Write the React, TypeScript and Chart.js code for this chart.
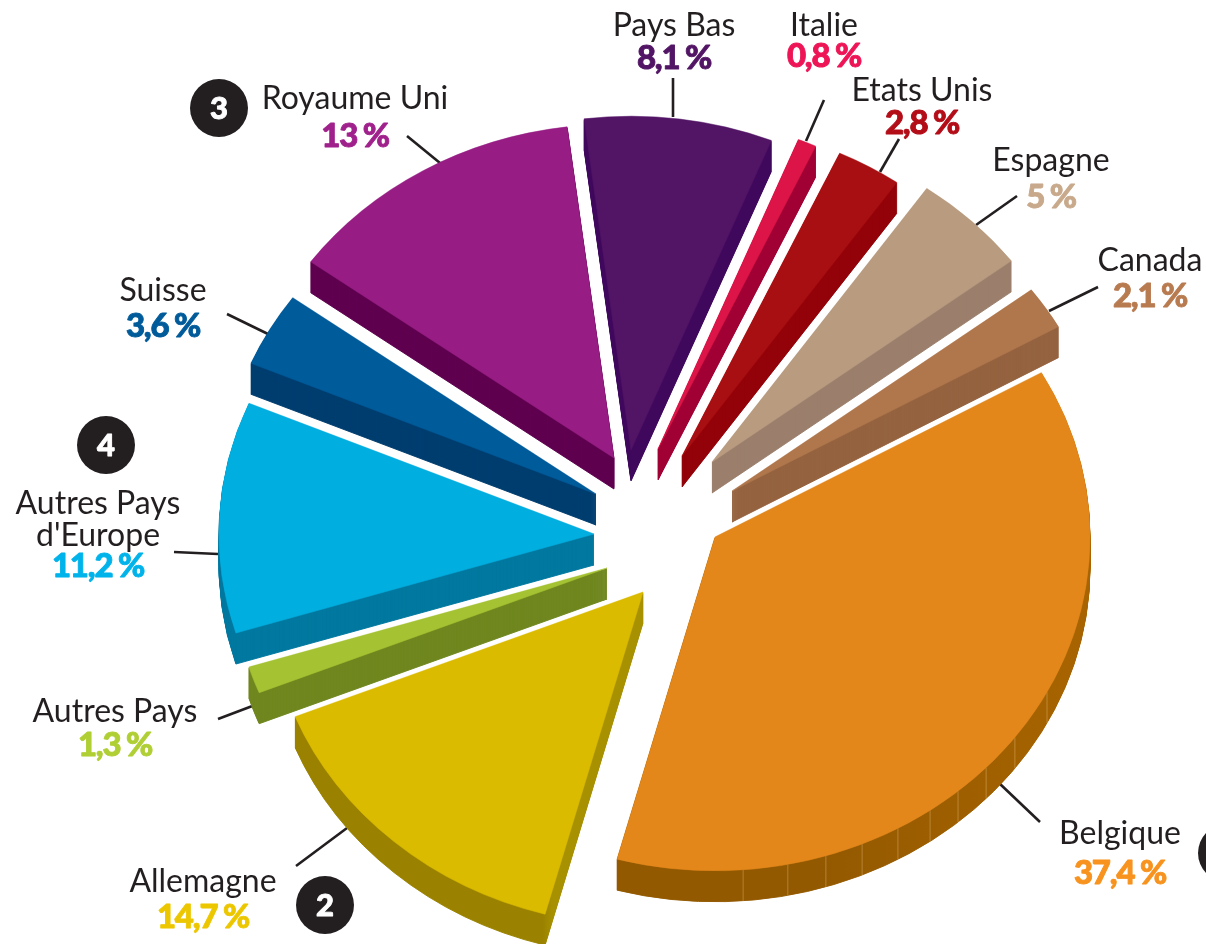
import React, { useEffect, useRef } from "react";
import { Chart, registerables } from "chart.js";

Chart.register(...registerables);

const categories = ["Belgique", "Allemagne", "Autres Pays", "Autres Pays d'Europe", "Suisse", "Royaume Uni", "Pays Bas", "Italie", "Etats Unis", "Espagne", "Canada"];
const shares = [37.4, 14.7, 1.3, 11.2, 3.6, 13, 8.1, 0.8, 2.8, 5, 2.1];
const topColors = ["#e3871b", "#dbbb00", "#a4c232", "#00aee0", "#005b9a", "#971d84", "#521465", "#dc1447", "#a80f12", "#b99b80", "#b0764c"];
const wallColors = ["#935900", "#9a8200", "#70871f", "#00789f", "#003e70", "#600050", "#40085e", "#a00034", "#930208", "#9b7f6c", "#956340"];
const sideColors = ["#a86400", "#a89100", "#70871f", "#00789f", "#003e70", "#600050", "#40085e", "#a00034", "#930208", "#9b7f6c", "#956340"];
const textColors = ["#f7931e", "#ecc700", "#b0cf34", "#00b3ea", "#005b9a", "#a0218c", "#521465", "#ee1556", "#b30d18", "#c8a98b", "#b87b50"];
const explodeX = [60, -12, -48, -61, -59, -41, -24, 3, 27, 57, 77];
const explodeY = [27, 82, 58, 24, -16, -52, -60, -61, -54, -48, -19];
const nameLines = [["Belgique"], ["Allemagne"], ["Autres Pays"], ["Autres Pays", "d'Europe"], ["Suisse"], ["Royaume Uni"], ["Pays Bas"], ["Italie"], ["Etats Unis"], ["Espagne"], ["Canada"]];
const labelX = [1120, 203, 115, 98, 163, 355, 674, 824, 922, 1051, 1150];
const nameBaseline = [844, 892, 722, 514, 301, 109, 36, 36, 101, 171, 271];
const pctBaseline = [884, 928, 756, 577, 337, 147, 69, 67, 134, 208, 307];
const facetAngles = [85.7, 78.8, 72.8, 66.9, 60.8, 55, 49.6, 43.7, 36.9, 27.7];
const leaderLines = [
  [999, 783, 1040, 822], [347, 828, 296, 866], [255, 705, 218, 719], [218, 554, 174, 552],
  [268, 334, 227, 314], [440, 163, 407, 136], [673, 117, 673, 78], [806, 141, 824, 100],
  [880, 172, 899, 139], [976, 225, 1017, 196], [1049, 311, 1098, 287],
];
const badges = [["1", 1227, 853], ["2", 325, 905], ["3", 219, 108], ["4", 106, 445]];

const SQUASH = 0.89;
const DEPTH = 31;
const RADIUS = 375;
const NAME_FONT = "400 32px Lato";
const PCT_FONT = "900 33px Lato";

const pct = (v: number) => String(v).replace(".", ",") + " %";

const pie3d = {
  id: "pie3d",
  beforeDatasetsDraw(chart: any) {
    const ctx = chart.ctx as CanvasRenderingContext2D;
    const arcs = chart.getDatasetMeta(0).data;
    ctx.save();
    ctx.strokeStyle = "#231f20";
    ctx.lineWidth = 2.6;
    leaderLines.forEach(([a, b, c, d]) => {
      ctx.beginPath();
      ctx.moveTo(a, b);
      ctx.lineTo(c, d);
      ctx.stroke();
    });
    ctx.restore();

    const place = (arc: any, i: number, dy: number) => {
      ctx.translate(arc.x + explodeX[i], arc.y + explodeY[i] + dy);
      ctx.scale(1, SQUASH);
      ctx.translate(-arc.x, -arc.y);
    };
    const paint = (arc: any, fill: any, edge: number) => {
      const o = arc.options;
      arc.options = { ...o, backgroundColor: fill, borderColor: fill, borderWidth: edge, borderJoinStyle: "round" };
      arc.draw(ctx);
      arc.options = o;
    };

    arcs.forEach((arc: any, i: number) => {
      let fill: any = wallColors[i];
      if (i === 0) {
        const g = ctx.createLinearGradient(arc.x + 100, 0, arc.x + RADIUS, 0);
        g.addColorStop(0, wallColors[i]);
        g.addColorStop(1, sideColors[i]);
        fill = g;
      } else if (i === 1) {
        const g = ctx.createLinearGradient(arc.x - 100, 0, arc.x - 90, 0);
        g.addColorStop(0, wallColors[i]);
        g.addColorStop(1, sideColors[i]);
        fill = g;
      }
      for (let d = DEPTH; d >= 1; d--) {
        ctx.save();
        place(arc, i, d);
        paint(arc, fill, 1);
        ctx.restore();
      }
    });

    // facets on the rim of the largest slice
    const b = arcs[0];
    ctx.save();
    ctx.strokeStyle = "rgba(255,215,160,0.32)";
    ctx.lineWidth = 1;
    facetAngles.forEach((deg) => {
      const a = (deg * Math.PI) / 180;
      const x = b.x + explodeX[0] + RADIUS * Math.cos(a);
      const y = b.y + explodeY[0] + RADIUS * SQUASH * Math.sin(a);
      ctx.beginPath();
      ctx.moveTo(x, y);
      ctx.lineTo(x, y + DEPTH);
      ctx.stroke();
    });
    ctx.restore();

    arcs.forEach((arc: any, i: number) => {
      ctx.save();
      place(arc, i, 0);
      paint(arc, topColors[i], 0.6);
      ctx.restore();
    });
    return false;
  },
  afterDraw(chart: any) {
    const ctx = chart.ctx as CanvasRenderingContext2D;
    ctx.save();
    ctx.textAlign = "center";
    ctx.textBaseline = "alphabetic";
    ctx.lineJoin = "round";
    categories.forEach((_, i) => {
      ctx.font = NAME_FONT;
      ctx.fillStyle = "#231f20";
      (ctx as any).letterSpacing = "0px";
      (ctx as any).wordSpacing = "0px";
      nameLines[i].forEach((line, k) => ctx.fillText(line, labelX[i], nameBaseline[i] + k * 32));
      ctx.font = PCT_FONT;
      (ctx as any).letterSpacing = "-1.2px";
      (ctx as any).wordSpacing = "-1px";
      ctx.fillStyle = textColors[i];
      ctx.strokeStyle = textColors[i];
      ctx.lineWidth = 0.9;
      ctx.fillText(pct(shares[i]), labelX[i], pctBaseline[i]);
      ctx.strokeText(pct(shares[i]), labelX[i], pctBaseline[i]);
    });
    (ctx as any).letterSpacing = "0px";
    (ctx as any).wordSpacing = "0px";
    badges.forEach(([t, x, y]) => {
      ctx.fillStyle = "#231f20";
      ctx.beginPath();
      ctx.arc(x as number, y as number, 29, 0, Math.PI * 2);
      ctx.fill();
      ctx.fillStyle = "#ffffff";
      ctx.strokeStyle = "#ffffff";
      ctx.lineWidth = 0.9;
      ctx.font = "900 31px Lato";
      ctx.fillText(t as string, x as number, (y as number) + 11);
      ctx.strokeText(t as string, x as number, (y as number) + 11);
    });
    ctx.restore();
  },
};

export default function App() {
  const ref = useRef<HTMLCanvasElement>(null);
  useEffect(() => {
    const chart = new Chart(ref.current as HTMLCanvasElement, {
      type: "pie",
      data: {
        labels: categories,
        datasets: [{ data: shares, backgroundColor: topColors, borderWidth: 0, radius: RADIUS } as any],
      },
      options: {
        animation: false,
        responsive: false,
        devicePixelRatio: 1,
        rotation: 60.5,
        layout: { padding: { left: 104, top: 76 } },
        plugins: { legend: { display: false }, tooltip: { enabled: false }, title: { display: false } },
      } as any,
      plugins: [pie3d as any],
    });
    return () => chart.destroy();
  }, []);
  return (
    <canvas
      ref={ref}
      width={1206}
      height={944}
      style={{ position: "absolute", left: 0, top: 0, width: 1206, height: 944, display: "block" }}
    />
  );
}
